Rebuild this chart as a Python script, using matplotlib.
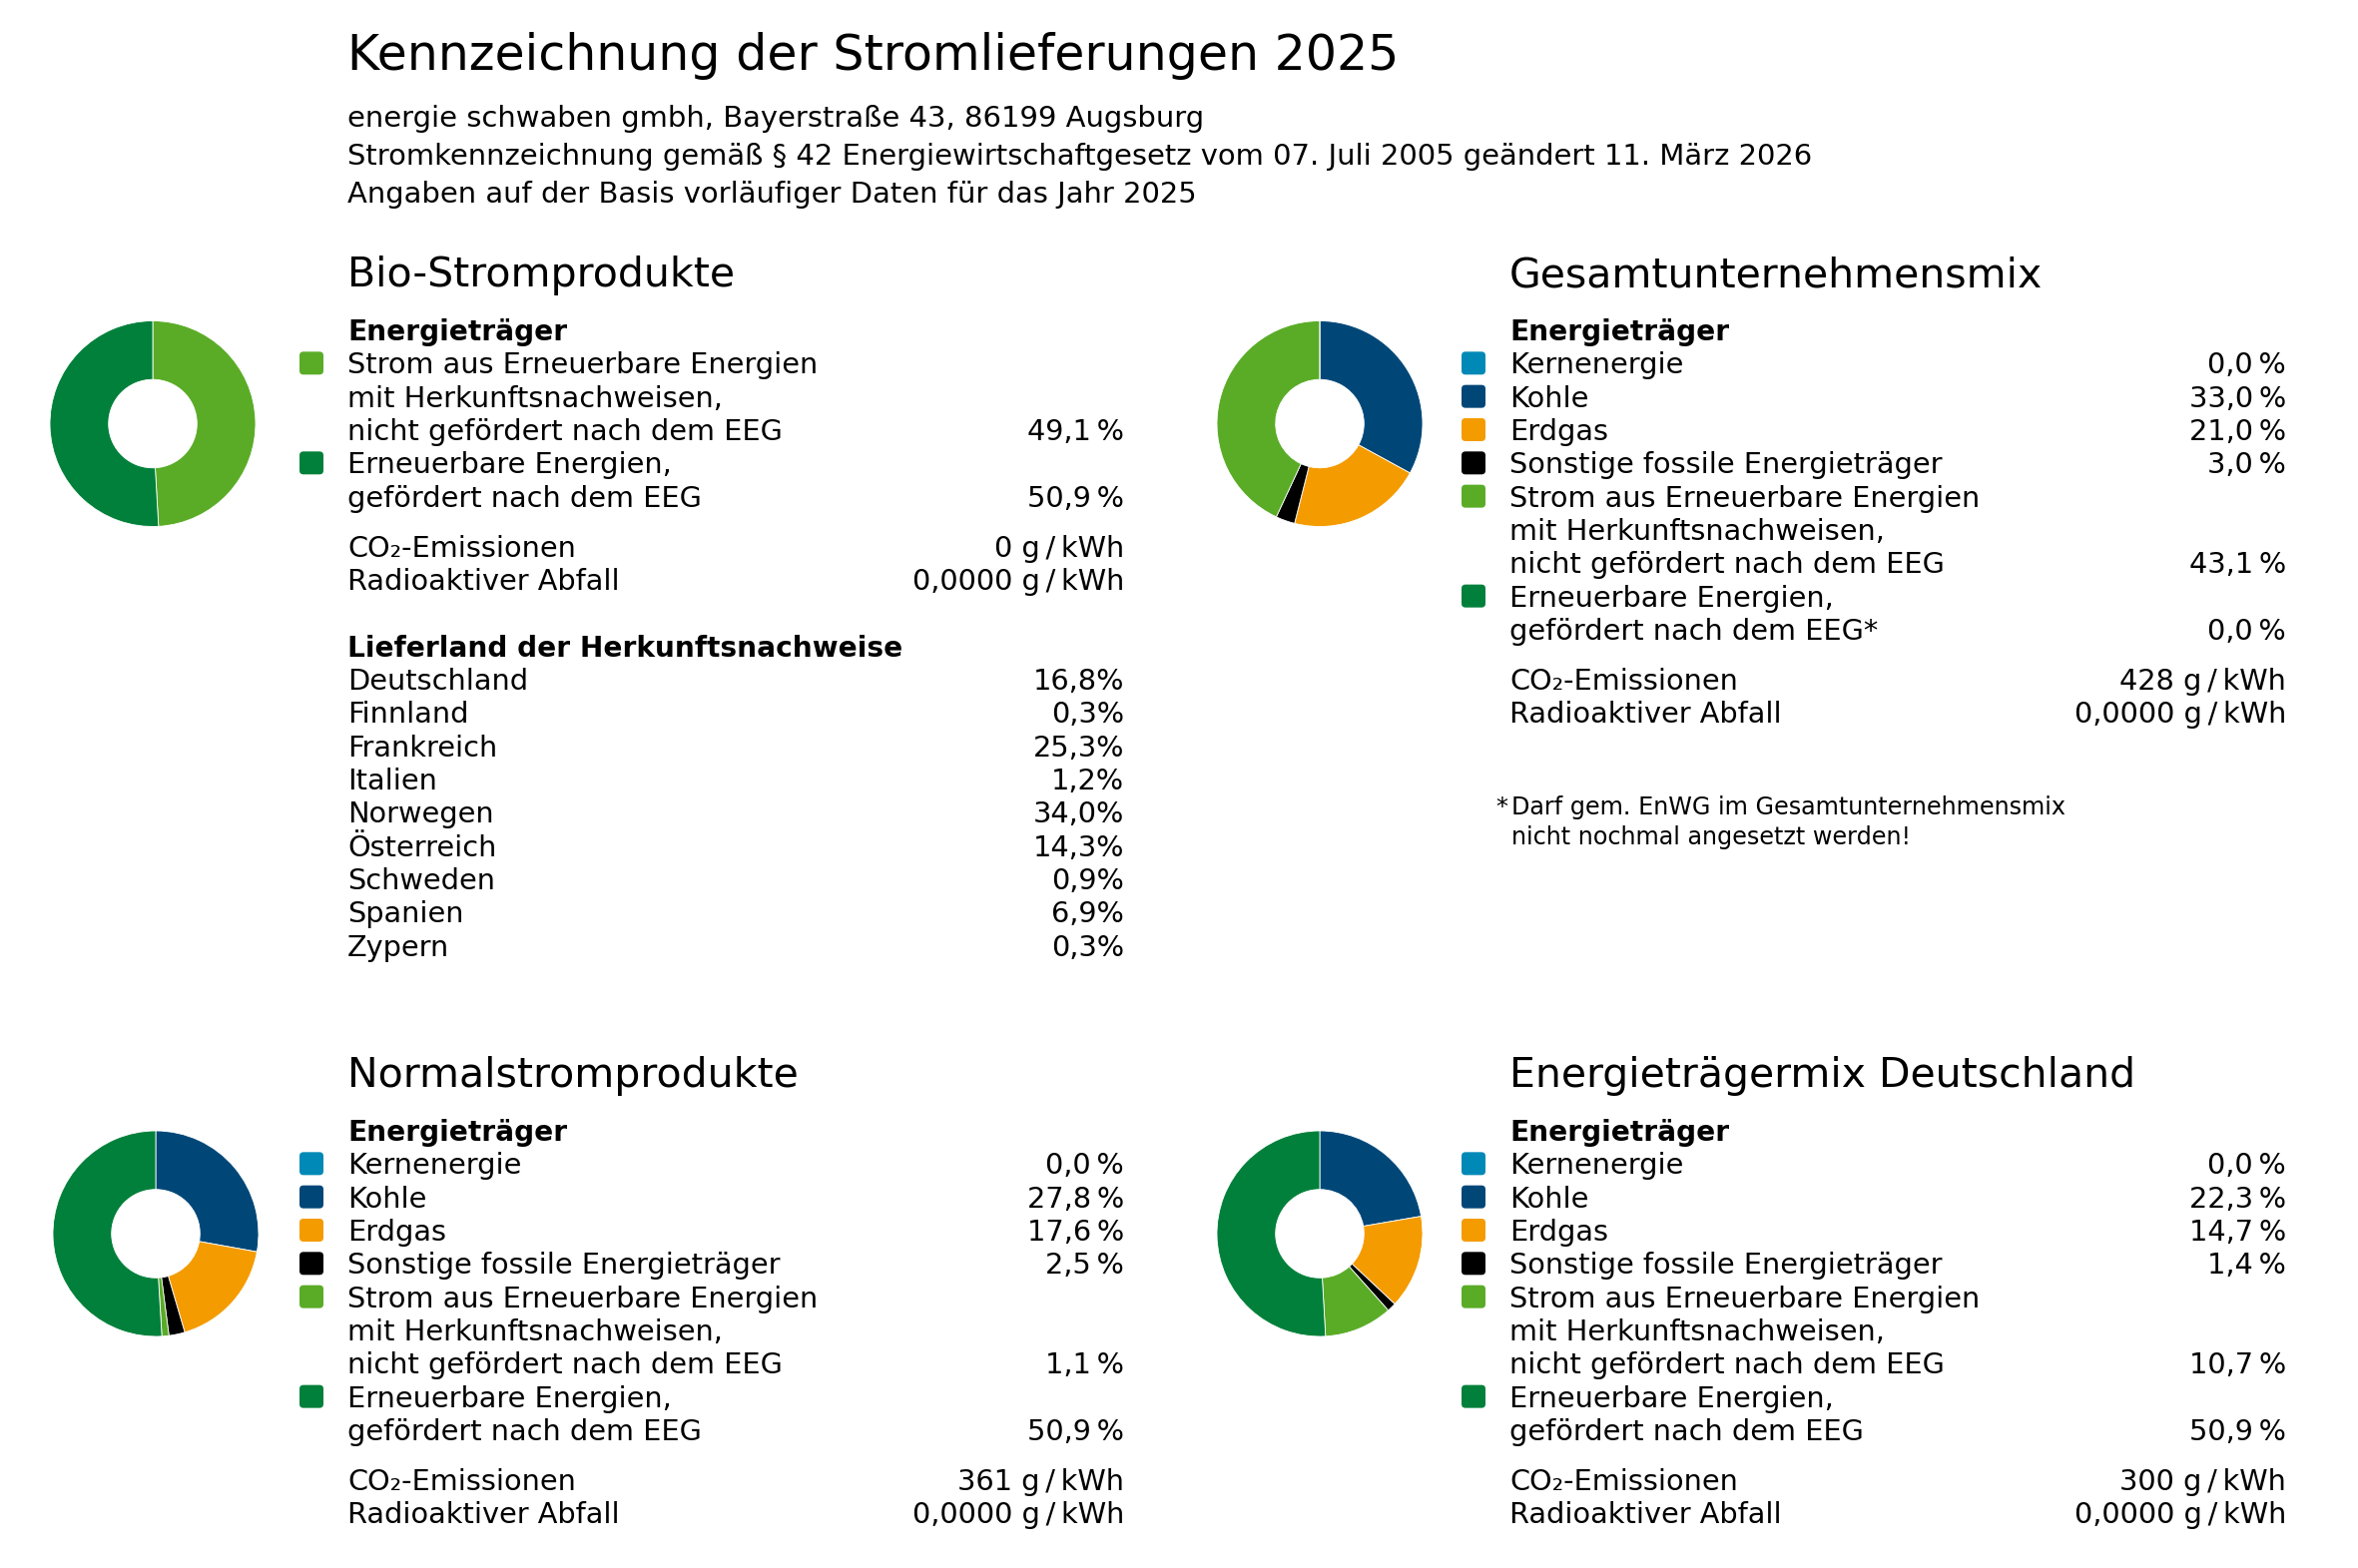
import matplotlib
matplotlib.use("Agg")
import matplotlib.pyplot as plt
from matplotlib.patches import FancyBboxPatch

plt.rcParams['font.family'] = ['DejaVu Sans']

# Texte
titel = "Kennzeichnung der Stromlieferungen 2025"
untertitel = [
    "energie schwaben gmbh, Bayerstraße 43, 86199 Augsburg",
    "Stromkennzeichnung gemäß § 42 Energiewirtschaftgesetz vom 07. Juli 2005 geändert 11. März 2026",
    "Angaben auf der Basis vorläufiger Daten für das Jahr 2025",
]

# Energieträger (Reihenfolge wie im Diagramm, im Uhrzeigersinn ab 12 Uhr)
traeger = ["Kernenergie", "Kohle", "Erdgas", "Sonstige fossile Energieträger",
           "Strom aus Erneuerbare Energien", "Erneuerbare Energien"]
traeger_farben = ["#0089b6", "#004778", "#f49b00", "#000000", "#5aac27", "#00803a"]

# Bio-Stromprodukte: nur die beiden erneuerbaren Anteile
bio_werte = [49.1, 50.9]
bio_farben = ["#5aac27", "#00803a"]
bio_co2 = 0

gesamt_werte = [0.0, 33.0, 21.0, 3.0, 43.1, 0.0]
gesamt_co2 = 428

normal_werte = [0.0, 27.8, 17.6, 2.5, 1.1, 50.9]
normal_co2 = 361

deutschland_werte = [0.0, 22.3, 14.7, 1.4, 10.7, 50.9]
deutschland_co2 = 300

abfall = "0,0000"

laender = ["Deutschland", "Finnland", "Frankreich", "Italien", "Norwegen",
           "Österreich", "Schweden", "Spanien", "Zypern"]
laender_anteile = [16.8, 0.3, 25.3, 1.2, 34.0, 14.3, 0.9, 6.9, 0.3]

W, H = 2362, 1571
fig = plt.figure(figsize=(W / 100, H / 100), dpi=100, facecolor="white")
ax = fig.add_axes([0, 0, 1, 1])
ax.set_xlim(0, W)
ax.set_ylim(H, 0)
ax.axis("off")

FS = 20.7      # Fließtext
FS_B = 20.2    # fett
FS_H = 29.5    # Zwischenüberschriften
LH = 33.33     # Zeilenabstand
EINHEIT = "g\u2009/\u2009kWh"


def pct(v, leer="\u2009"):
    return f"{v:.1f}".replace(".", ",") + leer + "%"


def txt(x, y, s, ha="left", **kw):
    kw.setdefault("fontsize", FS)
    ax.text(x, y, s, ha=ha, va="baseline", color="black", **kw)


def marker(x, y, farbe):
    ax.add_patch(FancyBboxPatch((x, y - 22), 24, 23,
                                boxstyle="round,pad=0,rounding_size=4",
                                facecolor=farbe, edgecolor="none"))


def donut(cx, cy, werte, farben):
    r = 103
    a = fig.add_axes([(cx - r) / W, 1 - (cy + r) / H, 2 * r / W, 2 * r / H])
    a.pie(werte, colors=farben, startangle=90, counterclock=False,
          wedgeprops=dict(width=0.57, edgecolor="white", linewidth=0.6))
    a.set_xlim(-1.0, 1.0)
    a.set_ylim(-1.0, 1.0)
    a.axis("off")


def mix_block(xt, xm, xr, y0, werte, co2, stern=False):
    txt(xt, y0, "Energieträger", fontsize=FS_B, fontweight="bold")
    for i in range(4):
        y = y0 + (i + 1) * LH
        marker(xm, y, traeger_farben[i])
        txt(xt, y, traeger[i])
        txt(xr, y, pct(werte[i]), ha="right")
    y = y0 + 5 * LH
    marker(xm, y, traeger_farben[4])
    txt(xt, y, traeger[4])
    txt(xt, y + LH, "mit Herkunftsnachweisen,")
    txt(xt, y + 2 * LH, "nicht gefördert nach dem EEG")
    txt(xr, y + 2 * LH, pct(werte[4]), ha="right")
    y = y0 + 8 * LH
    marker(xm, y, traeger_farben[5])
    txt(xt, y, traeger[5] + ",")
    txt(xt, y + LH, "gefördert nach dem EEG" + ("*" if stern else ""))
    txt(xr, y + LH, pct(werte[5]), ha="right")
    y = y0 + 10.5 * LH
    txt(xt, y, "CO₂-Emissionen")
    txt(xr, y, f"{co2} {EINHEIT}", ha="right")
    txt(xt, y + LH, "Radioaktiver Abfall")
    txt(xr, y + LH, f"{abfall} {EINHEIT}", ha="right")


# Kopf
txt(348, 70, titel, fontsize=35.3)
for i, zeile in enumerate(untertitel):
    txt(348, 127 + i * 38, zeile, fontsize=20.9)

# Spalten
XL, XLM, XLR = 348, 300, 1126
XR, XRM, XRR = 1512, 1464, 2290
Y_OBEN, Y_UNTEN = 341, 1143

# Bio-Stromprodukte
txt(XL, 287, "Bio-Stromprodukte", fontsize=FS_H)
donut(153, 424.5, bio_werte, bio_farben)
txt(XL, Y_OBEN, "Energieträger", fontsize=FS_B, fontweight="bold")
marker(XLM, Y_OBEN + LH, bio_farben[0])
txt(XL, Y_OBEN + LH, "Strom aus Erneuerbare Energien")
txt(XL, Y_OBEN + 2 * LH, "mit Herkunftsnachweisen,")
txt(XL, Y_OBEN + 3 * LH, "nicht gefördert nach dem EEG")
txt(XLR, Y_OBEN + 3 * LH, pct(bio_werte[0]), ha="right")
marker(XLM, Y_OBEN + 4 * LH, bio_farben[1])
txt(XL, Y_OBEN + 4 * LH, "Erneuerbare Energien,")
txt(XL, Y_OBEN + 5 * LH, "gefördert nach dem EEG")
txt(XLR, Y_OBEN + 5 * LH, pct(bio_werte[1]), ha="right")
txt(XL, Y_OBEN + 6.5 * LH, "CO₂-Emissionen")
txt(XLR, Y_OBEN + 6.5 * LH, f"{bio_co2} {EINHEIT}", ha="right")
txt(XL, Y_OBEN + 7.5 * LH, "Radioaktiver Abfall")
txt(XLR, Y_OBEN + 7.5 * LH, f"{abfall} {EINHEIT}", ha="right")

txt(XL, Y_OBEN + 9.5 * LH, "Lieferland der Herkunftsnachweise", fontsize=FS_B, fontweight="bold")
for i, (land, anteil) in enumerate(zip(laender, laender_anteile)):
    y = Y_OBEN + (10.5 + i) * LH
    txt(XL, y, land)
    txt(XLR, y, pct(anteil, leer=""), ha="right")

# Gesamtunternehmensmix
txt(XR, 287, "Gesamtunternehmensmix", fontsize=FS_H)
donut(1322, 424.5, gesamt_werte, traeger_farben)
mix_block(XR, XRM, XRR, Y_OBEN, gesamt_werte, gesamt_co2, stern=True)
txt(1498, 816, "*", fontsize=17.2)
txt(1514, 816, "Darf gem. EnWG im Gesamtunternehmensmix", fontsize=17.2)
txt(1514, 846, "nicht nochmal angesetzt werden!", fontsize=17.2)

# Normalstromprodukte
txt(XL, 1089, "Normalstromprodukte", fontsize=FS_H)
donut(156, 1236, normal_werte, traeger_farben)
mix_block(XL, XLM, XLR, Y_UNTEN, normal_werte, normal_co2)

# Energieträgermix Deutschland
txt(XR, 1089, "Energieträgermix Deutschland", fontsize=FS_H)
donut(1322, 1236, deutschland_werte, traeger_farben)
mix_block(XR, XRM, XRR, Y_UNTEN, deutschland_werte, deutschland_co2)

fig.savefig("out.png", dpi=100, facecolor="white")
